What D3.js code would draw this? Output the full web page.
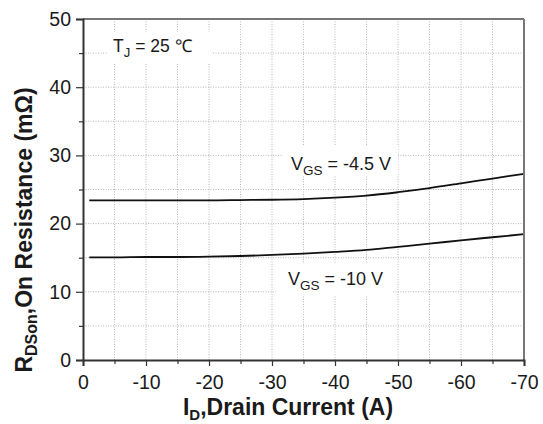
<!DOCTYPE html>
<html><head><meta charset="utf-8">
<script src="https://cdn.jsdelivr.net/npm/d3@7"></script>
<style>
body{margin:0;background:#fff}
text{font-family:"Liberation Sans",Arial,sans-serif;fill:#1a1a1a}
</style>
</head><body>
<svg id="c" width="543" height="424"></svg>
<script>
// ---- data ----
const currentA  = [-1, -5, -10, -15, -20, -25, -30, -35, -40, -45, -50, -55, -60, -65, -70];
const rdsVgs45  = [23.4, 23.4, 23.4, 23.4, 23.4, 23.45, 23.5, 23.6, 23.8, 24.1, 24.6, 25.2, 25.9, 26.6, 27.3];
const rdsVgs10  = [15.05, 15.05, 15.1, 15.1, 15.15, 15.25, 15.4, 15.6, 15.85, 16.15, 16.6, 17.05, 17.55, 18.0, 18.45];
const xTicks      = [0, -10, -20, -30, -40, -50, -60, -70];
const xMinorTicks = [-5, -15, -25, -35, -45, -55, -65];
const yTicks      = [0, 10, 20, 30, 40, 50];
const yMinorTicks = [5, 15, 25, 35, 45];
const xGrid = [-5, -10, -15, -20, -25, -30, -35, -40, -45, -50, -55, -60, -65];
const yGrid = [5, 10, 15, 20, 25, 30, 35, 40, 45];

// ---- layout ----
const svg = d3.select("#c");
const L = 83, R = 524, T = 19, B = 360;
const x = d3.scaleLinear().domain([0, -70]).range([L, R]);
const y = d3.scaleLinear().domain([0, 50]).range([B, T]);

// grid
const g = svg.append("g");
g.selectAll("line.gx").data(xGrid).join("line")
  .attr("x1", d => x(d)).attr("x2", d => x(d)).attr("y1", T).attr("y2", B)
  .attr("stroke", "#b8b8b8").attr("stroke-width", 1).attr("stroke-dasharray", "1,1.5");
g.selectAll("line.gy").data(yGrid).join("line")
  .attr("y1", d => y(d)).attr("y2", d => y(d)).attr("x1", L).attr("x2", R)
  .attr("stroke", "#b8b8b8").attr("stroke-width", 1).attr("stroke-dasharray", "1,1.5");

// white label backgrounds
const boxes = [[108, 32, 104, 32], [282, 146, 116, 30], [276, 264, 116, 32]];
svg.selectAll("rect.bg").data(boxes).join("rect")
  .attr("x", d => d[0]).attr("y", d => d[1]).attr("width", d => d[2]).attr("height", d => d[3])
  .attr("fill", "#fff");

// curves
const line = d3.line().x(d => x(d[0])).y(d => y(d[1])).curve(d3.curveMonotoneX);
[rdsVgs45, rdsVgs10].forEach(s => {
  svg.append("path").datum(currentA.map((c, i) => [c, s[i]]))
    .attr("d", line).attr("fill", "none").attr("stroke", "#111").attr("stroke-width", 1.8);
});

// frame top/right
svg.append("line").attr("x1", L).attr("x2", R).attr("y1", T).attr("y2", T)
  .attr("stroke", "#777").attr("stroke-width", 2);
svg.append("line").attr("x1", R).attr("x2", R).attr("y1", T).attr("y2", B)
  .attr("stroke", "#777").attr("stroke-width", 2);

// axes
svg.append("g").attr("transform", `translate(0,${B})`)
  .call(d3.axisBottom(x).tickValues(xTicks).tickSize(6).tickPadding(9).tickFormat(d => String(d)));
svg.append("g").attr("transform", `translate(0,${B})`)
  .call(d3.axisBottom(x).tickValues(xMinorTicks).tickSize(4).tickFormat(""))
  .call(a => a.select(".domain").remove());
svg.append("g").attr("transform", `translate(${L},0)`)
  .call(d3.axisLeft(y).tickValues(yTicks).tickSize(7).tickPadding(5).tickFormat(d => String(d)));
svg.append("g").attr("transform", `translate(${L},0)`)
  .call(d3.axisLeft(y).tickValues(yMinorTicks).tickSize(4).tickFormat(""))
  .call(a => a.select(".domain").remove());
svg.selectAll(".domain").attr("stroke", "#333").attr("stroke-width", 2);
svg.selectAll(".tick line").attr("stroke", "#333").attr("stroke-width", 1.2);
svg.selectAll(".tick text").attr("font-size", 19.5).attr("font-family", "Liberation Sans, Arial, sans-serif").attr("fill", "#1a1a1a");

// axis titles
const xt = svg.append("text").attr("x", 288).attr("y", 415).attr("text-anchor", "middle")
  .attr("font-size", 23).attr("font-weight", "bold");
xt.append("tspan").text("I");
xt.append("tspan").attr("font-size", 15).attr("dy", 5).text("D");
xt.append("tspan").attr("dy", -5).text(",Drain Current (A)");

const yt = svg.append("text").attr("transform", "translate(32,230) rotate(-90)").attr("text-anchor", "middle")
  .attr("font-size", 23).attr("font-weight", "bold");
yt.append("tspan").text("R");
yt.append("tspan").attr("font-size", 16).attr("dy", 5).text("DSon");
yt.append("tspan").attr("dy", -5).text(",On Resistance (mΩ)");

// annotations
function label(xp, yp, main, sub, rest, fs) {
  const t = svg.append("text").attr("x", xp).attr("y", yp).attr("font-size", fs);
  t.append("tspan").text(main);
  t.append("tspan").attr("font-size", fs * 0.75).attr("dy", 5).text(sub);
  t.append("tspan").attr("dy", -5).text(rest);
}
label(113, 52, "T", "J", " = 25 ℃", 17.5);
label(291, 170, "V", "GS", " = -4.5 V", 18);
label(288, 285, "V", "GS", " = -10 V", 18);
</script>
</body></html>
